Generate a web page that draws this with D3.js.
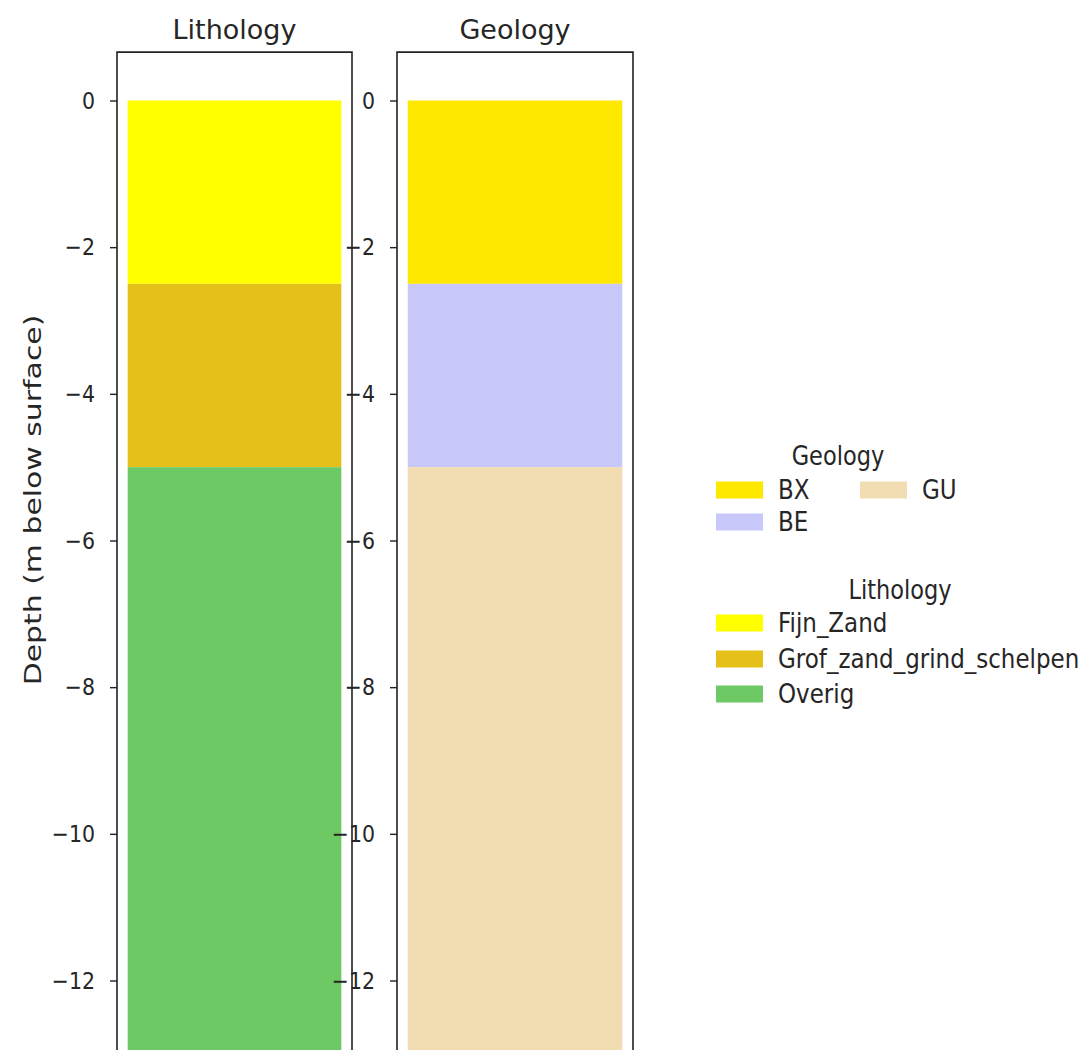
<!DOCTYPE html>
<html>
<head>
<meta charset="utf-8">
<script src="https://cdn.jsdelivr.net/npm/d3@7"></script>
<style>
  html, body { margin: 0; padding: 0; background: #fff; }
  svg { display: block; }
  text { font-family: "DejaVu Sans", sans-serif; fill: #262626; }
</style>
</head>
<body>
<svg id="chart" width="1090" height="1050"></svg>
<script>
// ---- data ----
const lithoNames = ["Fijn_Zand", "Grof_zand_grind_schelpen", "Overig"];
const lithoTop = [0, -2.5, -5];
const lithoBottom = [-2.5, -5, -14];
const lithoColors = ["#ffff00", "#e5c018", "#6cc963"];

const geoNames = ["BX", "BE", "GU"];
const geoTop = [0, -2.5, -5];
const geoBottom = [-2.5, -5, -14];
const geoColors = ["#ffe800", "#c8c8fa", "#f2dcb2"];

const depthTicks = [0, -2, -4, -6, -8, -10, -12];
const panelTitles = ["Lithology", "Geology"];
const yLabel = "Depth (m below surface)";

// ---- layout ----
const svg = d3.select("#chart");
const yDomain = [0.66, -14];
const y = d3.scaleLinear().domain([0, -12]).range([100.5, 980.5]);
const axTop = y(yDomain[0]);
const axBottom = y(yDomain[1]);
const panels = [
  { title: panelTitles[0], left: 117, right: 352, names: lithoNames, top: lithoTop, bottom: lithoBottom, colors: lithoColors },
  { title: panelTitles[1], left: 397, right: 633, names: geoNames, top: geoTop, bottom: geoBottom, colors: geoColors }
];

panels.forEach((p, pi) => {
  const x = d3.scaleLinear().domain([-0.55, 0.55]).range([p.left, p.right]);
  const g = svg.append("g");
  const clipId = "clip" + pi;
  svg.append("clipPath").attr("id", clipId)
    .append("rect").attr("x", p.left).attr("y", axTop)
    .attr("width", p.right - p.left).attr("height", axBottom - axTop);

  const layers = p.names.map((n, i) => ({ name: n, top: p.top[i], bottom: p.bottom[i], color: p.colors[i] }));
  g.append("g").attr("clip-path", `url(#${clipId})`)
    .selectAll("rect").data(layers).join("rect")
    .attr("x", x(-0.5))
    .attr("width", x(0.5) - x(-0.5))
    .attr("y", d => y(d.top))
    .attr("height", d => y(d.bottom) - y(d.top))
    .attr("fill", d => d.color);

  // frame
  g.append("path")
    .attr("d", `M${p.left},${axBottom}V${axTop}H${p.right}V${axBottom}`)
    .attr("fill", "none").attr("stroke", "#222").attr("stroke-width", 1.6);

  // axis
  const axis = d3.axisLeft(y).tickValues(depthTicks).tickSize(7).tickPadding(15)
    .tickFormat(d3.format("d"));
  const ag = g.append("g").attr("transform", `translate(${p.left},0)`).call(axis);
  ag.select(".domain").remove();
  ag.selectAll(".tick line").attr("stroke", "#222").attr("stroke-width", 1.4);
  ag.selectAll(".tick text")
    .attr("font-size", 20.5)
    .attr("fill", "#262626")
    .attr("transform", "scale(1,1.15)")
    .style("font-family", "DejaVu Sans");

  // title
  g.append("text")
    .attr("transform", `translate(${(p.left + p.right) / 2},39)`)
    .attr("text-anchor", "middle")
    .attr("font-size", 27)
    .text(p.title);
});

// y label
svg.append("text")
  .attr("transform", "translate(41,500) scale(1,1.3) rotate(-90)")
  .attr("text-anchor", "middle")
  .attr("font-size", 23)
  .text(yLabel);

// ---- legends ----
function legend(title, titleX, titleY, items) {
  const lg = svg.append("g");
  lg.append("text")
    .attr("transform", `translate(${titleX},${titleY}) scale(1,1.15)`)
    .attr("text-anchor", "middle")
    .attr("dy", "0.35em")
    .attr("font-size", 22.5)
    .text(title);
  const it = lg.selectAll("g.item").data(items).join("g")
    .attr("transform", d => `translate(${d.x},${d.y})`);
  it.append("rect")
    .attr("x", 0).attr("y", -8.5).attr("width", 47).attr("height", 17)
    .attr("fill", d => d.color);
  it.append("text")
    .attr("transform", "translate(62,0) scale(1,1.15)")
    .attr("dy", "0.35em")
    .attr("font-size", 23)
    .text(d => d.name);
}

const geoPos = [[716, 490], [716, 522], [860, 490]];
legend("Geology", 838, 456, geoNames.map((n, i) => ({ name: n, color: geoColors[i], x: geoPos[i][0], y: geoPos[i][1] })));
const lithoRowY = [623, 659, 694];
legend("Lithology", 900, 590, lithoNames.map((n, i) => ({ name: n, color: lithoColors[i], x: 716, y: lithoRowY[i] })));
</script>
</body>
</html>
